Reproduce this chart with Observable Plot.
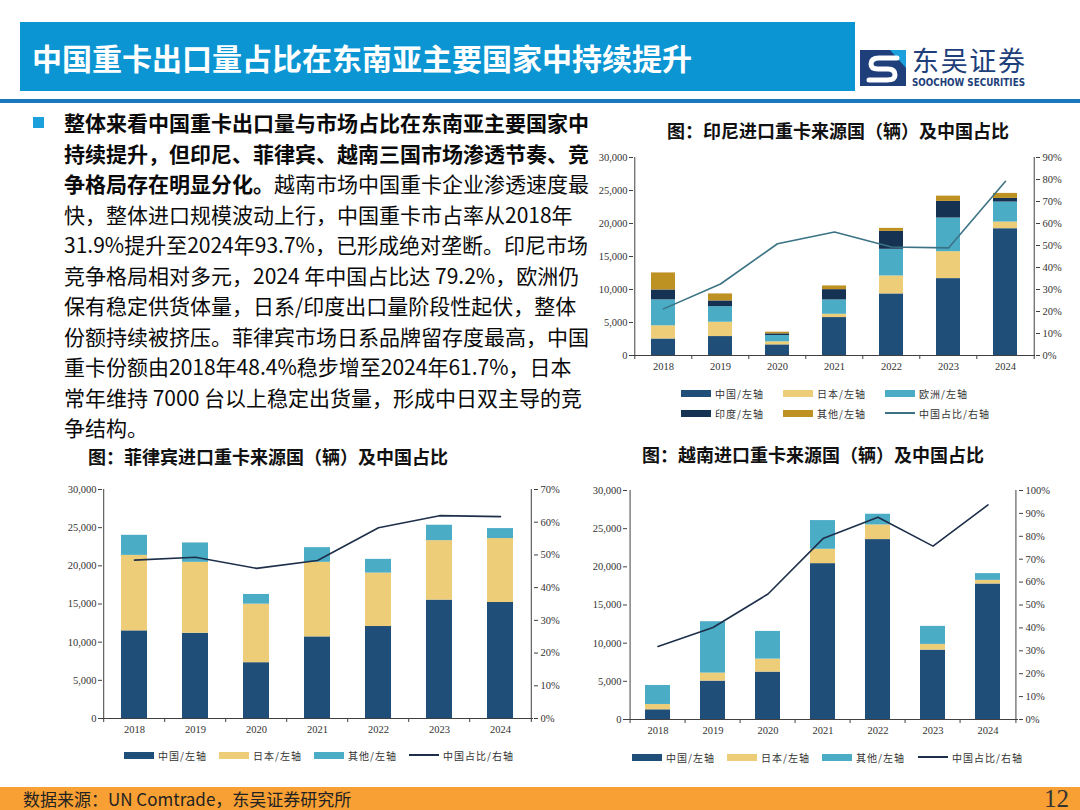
<!DOCTYPE html>
<html><head><meta charset="utf-8">
<script src="https://cdn.jsdelivr.net/npm/d3@7"></script>
<script src="https://cdn.jsdelivr.net/npm/@observablehq/plot@0.6"></script>
<style>
html,body{margin:0;padding:0;}
body{width:1080px;height:810px;position:relative;overflow:hidden;background:#fff;font-family:"Noto Sans CJK SC","Noto Sans",sans-serif;color:#111;}
.abs{position:absolute;}
#titlebar{left:20px;top:22px;width:835px;height:69px;background:#0B96D3;}
#title{left:32px;top:36px;font-size:30px;font-weight:700;color:#fff;line-height:42px;white-space:nowrap;}
#hline{left:0;top:99px;width:1080px;height:4px;background:#1B78BF;}
#bullet{left:33px;top:117px;width:11px;height:11px;background:#1BA0DC;}
.bl{position:absolute;left:64px;font-size:21px;line-height:22px;white-space:nowrap;color:#0a0a0a;}
.bl b{font-weight:700;}
.ctitle{font-size:18px;font-weight:700;line-height:18px;white-space:nowrap;color:#111;}
.legend{display:grid;font-size:10px;color:#333;letter-spacing:1px;}
.legend .it{display:flex;align-items:center;height:20px;white-space:nowrap;}
.legend .sw{display:inline-block;width:30px;height:7px;margin-right:4px;}
.legend .ln{display:inline-block;width:30px;height:2px;margin-right:4px;}
#footer{left:0;top:787px;width:1080px;height:23px;background:#F8A033;}
#src{left:23px;top:787px;font-size:17px;line-height:24px;color:#222;white-space:nowrap;}
#page{left:1044px;top:785px;font-size:25px;line-height:28px;font-family:"Liberation Serif","Times New Roman",serif;color:#333;}
</style></head><body>

<div id="titlebar" class="abs"></div>
<div id="title" class="abs">中国重卡出口量占比在东南亚主要国家中持续提升</div>
<svg class="abs" style="left:860px;top:38px" width="190" height="54">
  <rect x="0" y="12" width="46" height="36" fill="#1E3F7A"/>
  <path d="M46 12 L46 30 L30 12 Z" fill="#1BA0DC"/>
  <path d="M37 20 L19 20 Q11 20 11 26 Q11 31 18 31 L28 31 Q35 31 35 37 Q35 42 27 42 L9 42" stroke="#fff" stroke-width="5" fill="none" stroke-linecap="round"/>
  <text x="52" y="33" font-size="27" fill="#1E3F7A" font-family="Noto Sans CJK SC" textLength="113" lengthAdjust="spacing">东吴证券</text>
  <text x="52" y="48" font-size="10" font-weight="700" fill="#1E3F7A" font-family="DejaVu Sans Condensed, DejaVu Sans" textLength="113" lengthAdjust="spacingAndGlyphs">SOOCHOW SECURITIES</text>
</svg>
<div id="hline" class="abs"></div>

<div id="bullet" class="abs"></div>
<div class="bl" style="top:111px"><b>整体来看中国重卡出口量与市场占比在东南亚主要国家中</b></div>
<div class="bl" style="top:142px"><b>持续提升，但印尼、菲律宾、越南三国市场渗透节奏、竞</b></div>
<div class="bl" style="top:172px"><b>争格局存在明显分化。</b>越南市场中国重卡企业渗透速度最</div>
<div class="bl" style="top:203px">快，整体进口规模波动上行，中国重卡市占率从2018年</div>
<div class="bl" style="top:233px">31.9%提升至2024年93.7%，已形成绝对垄断。印尼市场</div>
<div class="bl" style="top:264px">竞争格局相对多元，2024 年中国占比达 79.2%，欧洲仍</div>
<div class="bl" style="top:294px">保有稳定供货体量，日系/印度出口量阶段性起伏，整体</div>
<div class="bl" style="top:325px">份额持续被挤压。菲律宾市场日系品牌留存度最高，中国</div>
<div class="bl" style="top:355px">重卡份额由2018年48.4%稳步增至2024年61.7%，日本</div>
<div class="bl" style="top:386px">常年维持 7000 台以上稳定出货量，形成中日双主导的竞</div>
<div class="bl" style="top:416px">争结构。</div>

<div class="abs ctitle" style="left:667px;top:121px">图：印尼进口重卡来源国（辆）及中国占比</div>
<div class="abs ctitle" style="left:88px;top:447px">图：菲律宾进口重卡来源国（辆）及中国占比</div>
<div class="abs ctitle" style="left:642px;top:445px">图：越南进口重卡来源国（辆）及中国占比</div>

<div id="c1" class="abs" style="left:590px;top:145px"></div>
<div id="c2" class="abs" style="left:55px;top:478px"></div>
<div id="c3" class="abs" style="left:580px;top:478px"></div>

<div id="l1" class="abs legend" style="left:681px;top:383px;grid-template-columns:102px 102px 130px"></div>
<div id="l2" class="abs legend" style="left:124px;top:745px;grid-template-columns:95px 95px 95px 120px"></div>
<div id="l3" class="abs legend" style="left:632px;top:747px;grid-template-columns:95px 95px 96px 120px"></div>

<div id="footer" class="abs"></div>
<div id="src" class="abs">数据来源：UN Comtrade，东吴证券研究所</div>
<div id="page" class="abs">12</div>

<script>
// ---------- data ----------
const years = ["2018", "2019", "2020", "2021", "2022", "2023", "2024"];
const leftTicks = [0, 5000, 10000, 15000, 20000, 25000, 30000];
const leftMax = 30000;

// Indonesia (units)
const idChina  = [2500, 2870, 1610, 5750, 9330, 11650, 19210];
const idJapan  = [2000, 2170, 460, 500, 2720, 4080, 1010];
const idEurope = [3930, 2370, 960, 2170, 4040, 5100, 3030];
const idIndia  = [1500, 860, 250, 1560, 2720, 2520, 550];
const idOther  = [2580, 1060, 250, 560, 450, 800, 760];
const idShare  = [21.2, 32.5, 50.8, 56.1, 49.3, 48.9, 79.2];
const idRightTicks = [0, 10, 20, 30, 40, 50, 60, 70, 80, 90];

// Philippines
const phChina = [11480, 11170, 7310, 10690, 12050, 15510, 15200];
const phJapan = [9890, 9290, 7670, 9770, 7000, 7790, 8370];
const phOther = [2630, 2540, 1270, 1920, 1800, 2020, 1310];
const phShare = [48.4, 49.3, 45.9, 48.3, 58.3, 62.0, 61.7];
const phRightTicks = [0, 10, 20, 30, 40, 50, 60, 70];

// Vietnam
const vnChina = [1270, 5030, 6210, 20420, 23570, 9090, 17750];
const vnJapan = [700, 1050, 1700, 1880, 1920, 750, 480];
const vnOther = [2490, 6730, 3630, 3760, 1400, 2360, 880];
const vnShare = [31.9, 40.2, 54.8, 79.0, 88.3, 75.7, 93.7];
const vnRightTicks = [0, 10, 20, 30, 40, 50, 60, 70, 80, 90, 100];

// ---------- styles ----------
const C = {china: "#1F4E79", japan: "#EECD78", cyan: "#4BACC6", india: "#163252", gold: "#BE9123"};
const axisColor = "#404040";

function drawChart(o) {
  const {series, share, shareColor, rightTicks, width, height, ml, mr, mt, mb, pad} = o;
  const n = years.length;
  const pw = width - ml - mr, ph = height - mt - mb;
  const step = pw / n;
  const rightMax = rightTicks[rightTicks.length - 1];
  const k = leftMax / rightMax;
  const rows = series.flatMap(s => years.map((yr, i) => ({year: yr, key: s.name, value: s.values[i]})));
  const line = years.map((yr, i) => ({year: yr, v: share[i] * k}));
  const tickLen = leftMax * 4 / ph;
  return Plot.plot({
    width, height, marginLeft: ml, marginRight: mr, marginTop: mt, marginBottom: mb,
    style: {fontFamily: "'Liberation Serif','Times New Roman',serif", fontSize: "10.5px", color: "#333", background: "transparent", overflow: "visible"},
    x: {type: "band", domain: years, paddingInner: pad, paddingOuter: pad / 2},
    y: {domain: [0, leftMax]},
    color: {domain: series.map(s => s.name), range: series.map(s => s.color)},
    marks: [
      Plot.barY(rows, {x: "year", y: "value", fill: "key"}),
      Plot.ruleY([0], {stroke: axisColor}),
      Plot.ruleX([years[0]], {dx: -step / 2, stroke: axisColor}),
      Plot.ruleX([years[n - 1]], {dx: step / 2, stroke: axisColor}),
      Plot.ruleX(years, {x: d => d, dx: -step / 2, y1: () => 0, y2: () => -tickLen, stroke: axisColor}),
      Plot.ruleX([years[n - 1]], {x: d => d, dx: step / 2, y1: () => 0, y2: () => -tickLen, stroke: axisColor}),
      Plot.axisY({anchor: "left", ticks: leftTicks, tickSize: 4, tickPadding: 2, tickFormat: d3.format(","), label: null, stroke: axisColor}),
      Plot.axisY({anchor: "right", ticks: rightTicks.map(t => t * k), tickSize: 4, tickPadding: 3, tickFormat: d => Math.round(d / k) + "%", label: null, stroke: axisColor}),
      Plot.axisX({tickSize: 0, tickPadding: 7, label: null}),
      Plot.line(line, {x: "year", y: "v", stroke: shareColor, strokeWidth: 1.6})
    ]
  });
}

function drawLegend(el, items) {
  for (const it of items) {
    const d = document.createElement("div");
    d.className = "it";
    const s = document.createElement("span");
    s.className = it.line ? "ln" : "sw";
    s.style.background = it.color;
    d.appendChild(s);
    d.appendChild(document.createTextNode(it.label));
    el.appendChild(d);
  }
}

const idSeries = [
  {name: "中国/左轴", values: idChina, color: C.china},
  {name: "日本/左轴", values: idJapan, color: C.japan},
  {name: "欧洲/左轴", values: idEurope, color: C.cyan},
  {name: "印度/左轴", values: idIndia, color: C.india},
  {name: "其他/左轴", values: idOther, color: C.gold}
];
const phSeries = [
  {name: "中国/左轴", values: phChina, color: C.china},
  {name: "日本/左轴", values: phJapan, color: C.japan},
  {name: "其他/左轴", values: phOther, color: C.cyan}
];
const vnSeries = [
  {name: "中国/左轴", values: vnChina, color: C.china},
  {name: "日本/左轴", values: vnJapan, color: C.japan},
  {name: "其他/左轴", values: vnOther, color: C.cyan}
];
const shareLabel = "中国占比/右轴";
const idLineColor = "#3B7385", otherLineColor = "#1E2F4A";

document.getElementById("c1").appendChild(drawChart({
  series: idSeries, share: idShare, shareColor: idLineColor, rightTicks: idRightTicks,
  width: 485, height: 235, ml: 43, mr: 40, mt: 12, mb: 25, pad: 0.58
}));
document.getElementById("c2").appendChild(drawChart({
  series: phSeries, share: phShare, shareColor: otherLineColor, rightTicks: phRightTicks,
  width: 518, height: 264, ml: 47, mr: 40, mt: 11, mb: 24, pad: 0.57
}));
document.getElementById("c3").appendChild(drawChart({
  series: vnSeries, share: vnShare, shareColor: otherLineColor, rightTicks: vnRightTicks,
  width: 483, height: 265, ml: 47, mr: 45, mt: 12, mb: 24, pad: 0.54
}));

drawLegend(document.getElementById("l1"), [
  {label: idSeries[0].name, color: idSeries[0].color},
  {label: idSeries[1].name, color: idSeries[1].color},
  {label: idSeries[2].name, color: idSeries[2].color},
  {label: idSeries[3].name, color: idSeries[3].color},
  {label: idSeries[4].name, color: idSeries[4].color},
  {label: shareLabel, color: idLineColor, line: true}
]);
drawLegend(document.getElementById("l2"), [
  ...phSeries.map(s => ({label: s.name, color: s.color})),
  {label: shareLabel, color: otherLineColor, line: true}
]);
drawLegend(document.getElementById("l3"), [
  ...vnSeries.map(s => ({label: s.name, color: s.color})),
  {label: shareLabel, color: otherLineColor, line: true}
]);
</script>
</body></html>
